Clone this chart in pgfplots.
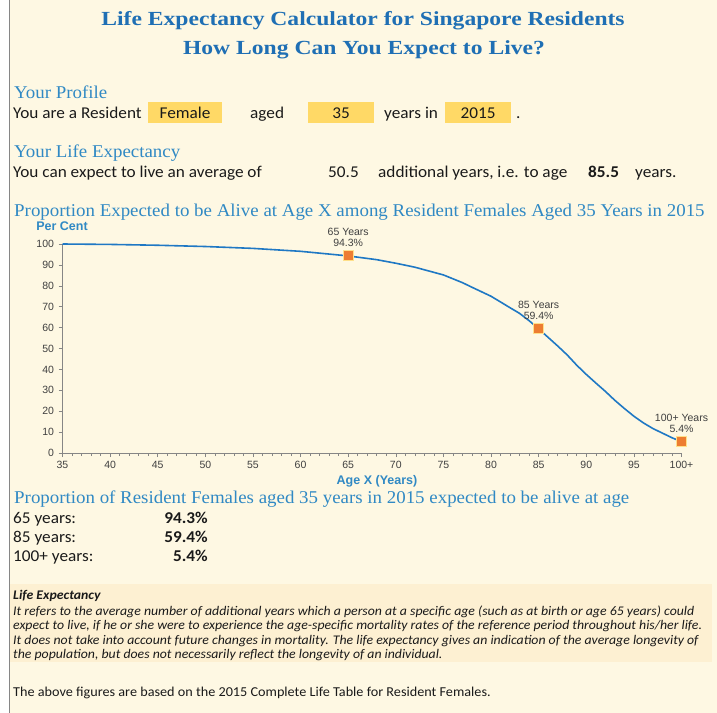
\documentclass[border=0pt]{standalone}
\usepackage{pgfplots}
\pgfplotsset{compat=1.18}
\usepackage{fontspec}
\setmainfont{Carlito}[FakeStretch=1.045]
\newfontfamily\titlef{Liberation Serif}[FakeStretch=1.18]
\newfontfamily\headf{Liberation Serif}[FakeStretch=1.05]
\newfontfamily\arial{Liberation Sans}
\definecolor{bg}{HTML}{FEF8E3}
\definecolor{notebg}{HTML}{FDF0D2}
\definecolor{ybox}{HTML}{FFD966}
\definecolor{titleblue}{HTML}{1F6FB4}
\definecolor{headblue}{HTML}{3089C4}
\definecolor{curve}{HTML}{1F78C4}
\definecolor{mk}{HTML}{ED7D31}
\definecolor{mkb}{HTML}{FFE08A}
\definecolor{tickc}{HTML}{404040}
\definecolor{axisgray}{HTML}{868686}
\definecolor{txt}{HTML}{1A1A1A}
\newcommand\fs[1]{\fontsize{#1bp}{#1bp}\selectfont}

\pgfplotstableread{
age surv
35 100
40 99.8
45 99.4
50 98.8
55 97.9
60 96.5
65 94.3
68 92.5
70 90.8
72 88.9
75 85.2
77 81.5
78 79.3
80 75.0
82 69.5
83 66.8
84 63.3
85 59.4
86 55.3
87 51.2
88 46.9
89 42.0
90 37.6
91 33.5
92 29.5
93 25.2
94 21.3
95 17.6
96 14.4
97 11.7
98 9.5
99 7.3
100 5.4
}\survtable

\begin{document}
\begin{tikzpicture}
\begin{scope}[x=1bp,y=-1bp]
\useasboundingbox (0,0) rectangle (717,713);
\fill[white] (0,0) rectangle (717,713);
\fill[bg] (9,0) rectangle (717,713);
\draw[axisgray, line width=0.8bp] (9,0) -- (9,713);
\fill[notebg] (10,584) rectangle (712,662);
\fill[ybox] (148,102) rectangle (222,123);
\fill[ybox] (308,102) rectangle (374,123);
\fill[ybox] (445,102) rectangle (511,123);
% titles
\node[anchor=base, inner sep=0, text=titleblue] at (363,26) {\titlef\fs{20}\bfseries Life Expectancy Calculator for Singapore Residents};
\node[anchor=base, inner sep=0, text=titleblue] at (364,55) {\titlef\fs{20}\bfseries How Long Can You Expect to Live?};
% profile
\node[anchor=base west, inner sep=0, text=headblue] at (14,99) {\headf\fs{18}Your Profile};
\node[anchor=base west, inner sep=0, text=txt] at (13,119) {\fs{16.5}You are a Resident};
\node[anchor=base, inner sep=0, text=txt] at (185,119) {\fs{16.5}Female};
\node[anchor=base west, inner sep=0, text=txt] at (250,119) {\fs{16.5}aged};
\node[anchor=base, inner sep=0, text=txt] at (341,119) {\fs{16.5}35};
\node[anchor=base west, inner sep=0, text=txt] at (384,119) {\fs{16.5}years in};
\node[anchor=base, inner sep=0, text=txt] at (478,119) {\fs{16.5}2015};
\node[anchor=base west, inner sep=0, text=txt] at (516,119) {\fs{16.5}.};
% life expectancy
\node[anchor=base west, inner sep=0, text=headblue] at (14,157) {\headf\fs{18}Your Life Expectancy};
\node[anchor=base west, inner sep=0, text=txt] at (13,177) {\fs{16.5}You can expect to live an average of};
\node[anchor=base west, inner sep=0, text=txt] at (328,177) {\fs{16.5}50.5};
\node[anchor=base west, inner sep=0, text=txt] at (378,177) {\fs{16.5}additional years, i.e. to age};
\node[anchor=base west, inner sep=0, text=txt] at (588,177) {\fs{16.5}\bfseries 85.5};
\node[anchor=base west, inner sep=0, text=txt] at (635,177) {\fs{16.5}years.};
% chart header
\node[anchor=base west, inner sep=0, text=headblue] at (14,216) {\headf\fs{18}Proportion Expected to be Alive at Age X among Resident Females Aged 35 Years in 2015};
\node[anchor=base, inner sep=0, text=headblue] at (62,230) {\arial\fs{12.5}\bfseries Per Cent};
\node[anchor=base, inner sep=0, text=headblue] at (377,484.5) {\arial\fs{12.5}\bfseries Age X (Years)};
% proportion table
\node[anchor=base west, inner sep=0, text=headblue] at (14,503) {\headf\fs{18}Proportion of Resident Females aged 35 years in 2015 expected to be alive at age};
\node[anchor=base west, inner sep=0, text=txt] at (13,523) {\fs{16.5}65 years:};
\node[anchor=base east, inner sep=0, text=txt] at (208,523) {\fs{16.5}\bfseries 94.3\%};
\node[anchor=base west, inner sep=0, text=txt] at (13,542) {\fs{16.5}85 years:};
\node[anchor=base east, inner sep=0, text=txt] at (208,542) {\fs{16.5}\bfseries 59.4\%};
\node[anchor=base west, inner sep=0, text=txt] at (13,561) {\fs{16.5}100+ years:};
\node[anchor=base east, inner sep=0, text=txt] at (208,561) {\fs{16.5}\bfseries 5.4\%};
% note
\node[anchor=base west, inner sep=0, text=txt] at (13,599) {\fs{13.2}\bfseries\itshape Life Expectancy};
\node[anchor=base west, inner sep=0, text=txt] at (13,615) {\fs{13.2}\itshape It refers to the average number of additional years which a person at a specific age (such as at birth or age 65 years) could};
\node[anchor=base west, inner sep=0, text=txt] at (13,629.5) {\fs{13.2}\itshape expect to live, if he or she were to experience the age-specific mortality rates of the reference period throughout his/her life.};
\node[anchor=base west, inner sep=0, text=txt] at (13,644) {\fs{13.2}\itshape It does not take into account future changes in mortality. The life expectancy gives an indication of the average longevity of};
\node[anchor=base west, inner sep=0, text=txt] at (13,658.5) {\fs{13.2}\itshape the population, but does not necessarily reflect the longevity of an individual.};
\node[anchor=base west, inner sep=0, text=txt] at (13,696) {\fs{13.6}The above figures are based on the 2015 Complete Life Table for Resident Females.};
\end{scope}

\begin{axis}[
  at={(62.5bp,-453bp)}, anchor=south west, scale only axis,
  width=619bp, height=209bp,
  xmin=35, xmax=100, ymin=0, ymax=100,
  axis lines=left, axis line style={-, draw=axisgray, line width=0.8bp},
  xtick={35,40,...,100},
  xticklabels={35,40,45,50,55,60,65,70,75,80,85,90,95,100+},
  minor x tick num=4,
  ytick={0,10,...,100},
  tick align=outside, major tick length=4bp, minor tick length=3bp,
  tick style={draw=axisgray, line width=0.6bp},
  /pgf/number format/assume math mode=true,
  ticklabel style={font=\arial\fs{10.5}, text=tickc},
  yticklabel style={xshift=-1bp},
  xticklabel style={yshift=-0.5bp},
  clip=false,
]
\addplot[color=curve, line width=1.6bp] table[x=age, y=surv] {\survtable};
\addplot[only marks, mark=square*, mark size=5bp, mark options={fill=mk, draw=mkb, line width=1bp},
  nodes near coords={65 Years\\94.3\%},
  every node near coord/.style={align=center, font=\arial\fontsize{10.5bp}{11bp}\selectfont, text=tickc, anchor=south, yshift=9bp, inner sep=0pt}]
  coordinates {(65,94.3)};
\addplot[only marks, mark=square*, mark size=5bp, mark options={fill=mk, draw=mkb, line width=1bp},
  nodes near coords={85 Years\\59.4\%},
  every node near coord/.style={align=center, font=\arial\fontsize{10.5bp}{11bp}\selectfont, text=tickc, anchor=south, yshift=9bp, inner sep=0pt}]
  coordinates {(85,59.4)};
\addplot[only marks, mark=square*, mark size=5bp, mark options={fill=mk, draw=mkb, line width=1bp},
  nodes near coords={100+ Years\\5.4\%},
  every node near coord/.style={align=center, font=\arial\fontsize{10.5bp}{11bp}\selectfont, text=tickc, anchor=south, yshift=9bp, inner sep=0pt}]
  coordinates {(100,5.4)};
\end{axis}
\end{tikzpicture}
\end{document}
